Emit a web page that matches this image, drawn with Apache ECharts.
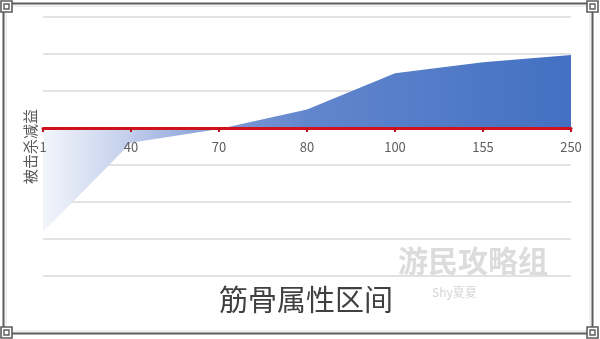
<!DOCTYPE html>
<html>
<head>
<meta charset="utf-8">
<script src="https://cdn.jsdelivr.net/npm/echarts@6/dist/echarts.min.js"></script>
<style>
  html, body { margin: 0; padding: 0; background: #ffffff; }
  #chart { width: 600px; height: 339px; }
</style>
</head>
<body>
<div id="chart"></div>
<script>
// 筋骨属性区间 → 被击杀减益
const categories = ['1', '40', '70', '80', '100', '155', '250'];
const reduction = [-2.81, -0.4, -0.03, 0.5, 1.48, 1.78, 1.97];
const xTitle = '筋骨属性区间';
const yName = '被击杀减益';

const yMin = -4, yMax = 3;
const gridTop = 17, gridBottom = 63, chartH = 339;

const frameColor = '#5c5c5c';

// decorative frame with small squares at each corner
function cornerBox(x, y) {
  return [
    { type: 'rect', shape: { x: x, y: y, width: 11, height: 11 },
      style: { fill: '#ffffff', stroke: frameColor, lineWidth: 1.6 }, z: 20 },
    { type: 'rect', shape: { x: x + 3, y: y + 3, width: 5, height: 5 },
      style: { fill: 'none', stroke: frameColor, lineWidth: 1.4 }, z: 21 }
  ];
}

const graphics = [
  { type: 'rect', shape: { x: 3.5, y: 3.5, width: 589, height: 330 },
    style: { fill: 'none', stroke: frameColor, lineWidth: 2 }, z: 19 },
  { type: 'rect', shape: { x: 6, y: 6, width: 584, height: 325 },
    style: { fill: 'none', stroke: '#e2e2e2', lineWidth: 1 }, z: 19 },
  ...cornerBox(1, 1),
  ...cornerBox(587, 1),
  ...cornerBox(1, 327),
  ...cornerBox(587, 327),
  { type: 'text', left: 398, top: 246, z: 1,
    style: { text: '游民攻略组', font: 'bold 30px "Noto Sans CJK SC"', fill: '#dcdcdc' } },
  { type: 'text', left: 432, top: 286, z: 1,
    style: { text: 'Shy夏夏', font: '12px "Noto Sans CJK SC"', fill: '#d4d4d4' } }
];

// the category axis sits on the zero value: shift it up from the grid bottom
const plotH = chartH - gridTop - gridBottom;
const zeroOffset = -plotH * (0 - yMin) / (yMax - yMin);

const chart = echarts.init(document.getElementById('chart'), null, { renderer: 'canvas' });
chart.setOption({
  backgroundColor: '#ffffff',
  animation: false,
  title: {
    text: xTitle,
    left: 214,
    top: 280,
    textStyle: { fontSize: 29, fontWeight: 'normal', color: '#404040', fontFamily: 'Noto Sans CJK SC' }
  },
  graphic: graphics,
  grid: { left: 43, right: 29, top: gridTop, bottom: gridBottom },
  xAxis: {
    type: 'category',
    data: categories,
    boundaryGap: false,
    position: 'bottom',
    offset: zeroOffset,
    z: 5,
    axisLine: { onZero: false, lineStyle: { color: '#d0121c', width: 3 } },
    axisTick: { show: true, length: 4, lineStyle: { color: '#c0101a', width: 2 } },
    axisLabel: { color: '#5e5e5e', fontSize: 13, margin: 13, fontFamily: 'Noto Sans CJK SC' },
    splitLine: { show: false }
  },
  yAxis: {
    type: 'value',
    min: yMin,
    max: yMax,
    interval: 1,
    name: yName,
    nameLocation: 'middle',
    nameRotate: 90,
    nameGap: 5,
    nameTextStyle: { fontSize: 15, color: '#595959', fontFamily: 'Noto Sans CJK SC' },
    axisLine: { show: false },
    axisTick: { show: false },
    axisLabel: { show: false },
    splitLine: { lineStyle: { color: '#d9d9d9', width: 1.5 } }
  },
  series: [{
    type: 'line',
    data: reduction,
    symbol: 'none',
    lineStyle: { width: 0 },
    areaStyle: {
      opacity: 1,
      color: {
        type: 'linear', x: 0, y: 0, x2: 1, y2: 0,
        colorStops: [
          { offset: 0, color: '#f3f5fb' },
          { offset: 0.16, color: '#c3cfec' },
          { offset: 0.33, color: '#809ad6' },
          { offset: 0.5, color: '#6286cd' },
          { offset: 1, color: '#4370c2' }
        ]
      }
    }
  }]
});
</script>
</body>
</html>
